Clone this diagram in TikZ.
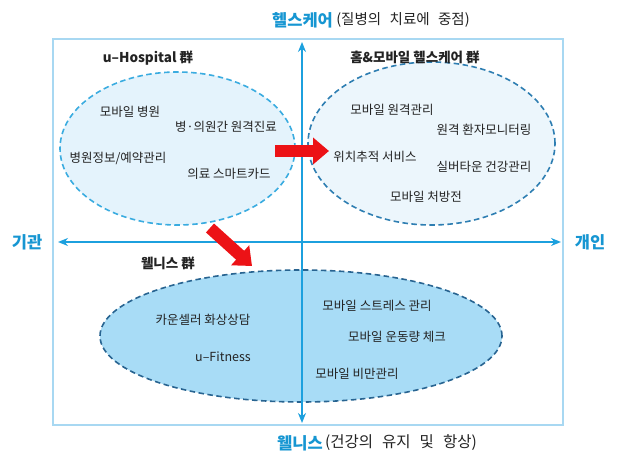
\documentclass[tikz,border=0pt]{standalone}
\usepackage{fontspec}
\setmainfont{Noto Sans CJK KR}
\newfontfamily\captfont[WordSpace=2]{Noto Sans CJK KR}
\newfontfamily\captfontb[WordSpace=2.6]{Noto Sans CJK KR}
\usetikzlibrary{arrows.meta}
\definecolor{framecol}{RGB}{168,216,242}
\definecolor{axiscol}{RGB}{28,160,222}
\definecolor{titleblue}{RGB}{22,150,210}
\definecolor{eAfill}{RGB}{228,243,252}
\definecolor{eAdraw}{RGB}{58,172,224}
\definecolor{eBfill}{RGB}{236,246,252}
\definecolor{eBdraw}{RGB}{46,126,178}
\definecolor{eCfill}{RGB}{168,220,246}
\definecolor{eCdraw}{RGB}{40,100,145}
\definecolor{redarrow}{RGB}{236,18,22}
\definecolor{txt}{RGB}{35,35,35}
\begin{document}
\begin{tikzpicture}[x=1pt,y=-1pt,
  item/.style={font=\fontsize{12.5}{14}\selectfont, text=txt, inner sep=0pt},
  grp/.style={font=\fontsize{13.5}{16}\selectfont\bfseries, text=txt, inner sep=0pt},
  bigblue/.style={font=\fontsize{16.5}{18}\selectfont\bfseries, text=titleblue, inner sep=0pt},
  capt/.style={font=\captfont\fontsize{14.5}{17}\selectfont, text=txt, inner sep=0pt},
  captb/.style={font=\captfontb\fontsize{15.5}{17}\selectfont, text=txt, inner sep=0pt},
  ellA/.style={draw=eAdraw, fill=eAfill, line width=1.6pt, dash pattern=on 5.5pt off 3.5pt},
  ellB/.style={draw=eBdraw, fill=eBfill, line width=1.6pt, dash pattern=on 5.5pt off 3.5pt},
  ellC/.style={draw=eCdraw, fill=eCfill, line width=1.6pt, dash pattern=on 5.5pt off 3.5pt},
  axisline/.style={draw=axiscol, line width=1.8pt, {Stealth[length=10pt,width=8pt]}-{Stealth[length=10pt,width=8pt]}},
  redarr/.style={draw=redarrow, line width=12pt, -{Triangle[length=16pt,width=26pt]}}
]
\useasboundingbox (0,0) rectangle (621,454);
\fill[white] (0,0) rectangle (621,454);

% frame
\draw[framecol, line width=2.5pt] (53,39) rectangle (563,425);

% ellipses
\draw[ellA] (177.5,148.5) ellipse [x radius=117.5pt, y radius=76.5pt];
\draw[ellB] (431.5,143.5) ellipse [x radius=123.5pt, y radius=81.5pt];
\draw[ellC] (301,336) ellipse [x radius=201pt, y radius=66pt];

% axes
\coordinate (vTop) at (302,42);
\coordinate (vBot) at (302,423);
\coordinate (hL) at (58,242);
\coordinate (hR) at (561,242);
\draw[axisline] (vBot) -- (vTop);
\draw[axisline] (hL) -- (hR);

% red arrows
\coordinate (r1s) at (275,151);
\coordinate (r1e) at (329,151);
\coordinate (r2s) at (210,228);
\coordinate (r2e) at (252,266);
\draw[redarr] (r1s) -- (r1e);
\draw[redarr] (r2s) -- (r2e);

% axis captions
\node[bigblue, anchor=west] (hc) at (272,20) {헬스케어};
\node[capt, anchor=west] (hcs) at ([xshift=3pt]hc.east) {(질병의 치료에 중점)};
\node[bigblue, anchor=west] (wn) at (277,443) {웰니스};
\node[captb, anchor=west] (wns) at ([xshift=2pt]wn.east) {(건강의 유지 및 항상)};
\node[bigblue] (gi) at (27,242) {기관};
\node[bigblue] (gn) at (590,242) {개인};

% group labels
\node[grp] (g1) at (148,58) {u–Hospital 群};
\node[grp] (g2) at (415,57) {홈\&모바일 헬스케어 群};
\node[grp] (g3) at (168,263) {웰니스 群};

% u-Hospital items
\node[item] (a1) at (130,112) {모바일 병원};
\node[item] (a2) at (226,127) {병·의원간 원격진료};
\node[item] (a3) at (118,158) {병원정보/예약관리};
\node[item] (a4) at (229,174) {의료 스마트카드};

% home & mobile items
\node[item] (b1) at (392,110) {모바일 원격관리};
\node[item] (b2) at (484,130) {원격 환자모니터링};
\node[item] (b3) at (375,157) {위치추적 서비스};
\node[item] (b4) at (484,167) {실버타운 건강관리};
\node[item] (b5) at (426,197) {모바일 처방전};

% wellness items
\node[item] (c1) at (203,320) {카운셀러 화상상담};
\node[item] (c2) at (223,357) {u–Fitness};
\node[item] (c3) at (377,306) {모바일 스트레스 관리};
\node[item] (c4) at (397,337) {모바일 운동량 체크};
\node[item] (c5) at (357,374) {모바일 비만관리};
\end{tikzpicture}
\end{document}
